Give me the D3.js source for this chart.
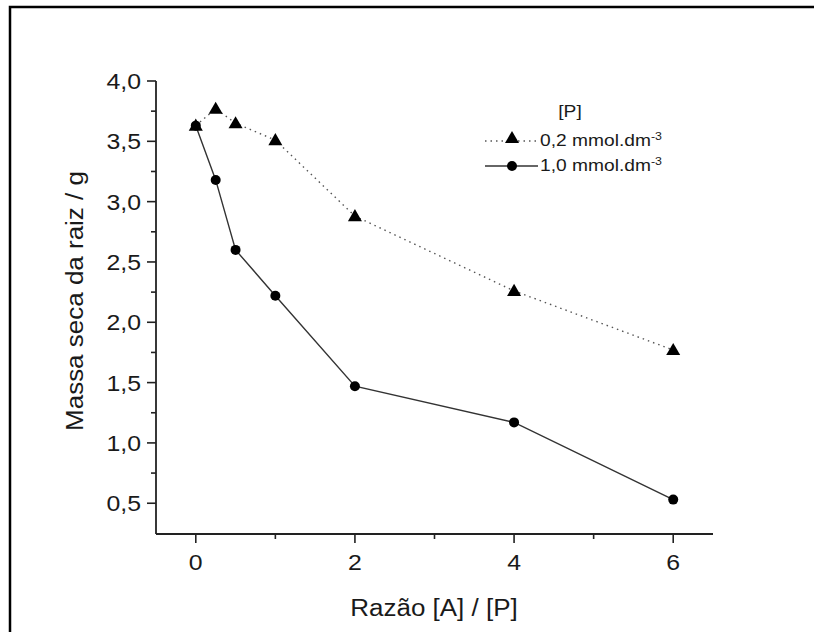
<!DOCTYPE html>
<html>
<head>
<meta charset="utf-8">
<script src="https://cdn.jsdelivr.net/npm/d3@7"></script>
<style>
  body { margin: 0; background: #fff; }
  text { font-family: Arial, "Liberation Sans", sans-serif; fill: #1a1a1a; }
</style>
</head>
<body>
<script>
// data
var razao = [0, 0.25, 0.5, 1, 2, 4, 6];
var massa02 = [3.63, 3.77, 3.65, 3.51, 2.88, 2.26, 1.77];   // 0,2 mmol.dm-3 (triangles, dotted)
var massa10 = [3.63, 3.18, 2.60, 2.22, 1.47, 1.17, 0.53];   // 1,0 mmol.dm-3 (circles, solid)
var xTicks = [0, 2, 4, 6];
var yTicks = [0.5, 1.0, 1.5, 2.0, 2.5, 3.0, 3.5, 4.0];
var legendLabels = ["0,2 mmol.dm", "1,0 mmol.dm"];

var width = 814, height = 632;
var stretch = 1.13; // the original lettering is a bit wider than Arial

var svg = d3.select("body").append("svg")
    .attr("width", width)
    .attr("height", height);

// outer frame (runs off the right and bottom)
svg.append("rect")
    .attr("x", 10).attr("y", 7)
    .attr("width", 840).attr("height", 660)
    .attr("fill", "none")
    .attr("stroke", "#000")
    .attr("stroke-width", 2.5);

var x = d3.scaleLinear().domain([-0.5, 6.5]).range([156, 713]);
var y = d3.scaleLinear().domain([0.245, 4.0]).range([534, 81]);

var comma = function(d) { return d3.format(".1f")(d).replace(".", ","); };
var place = function(px, py) { return "translate(" + px + "," + py + ") scale(" + stretch + ",1)"; };

// x axis
var xAxis = svg.append("g").attr("transform", "translate(0,534)");
xAxis.append("line")
    .attr("x1", 156).attr("x2", 713)
    .attr("stroke", "#222").attr("stroke-width", 1.8);
xAxis.selectAll(".minor").data([1, 3, 5]).enter().append("line")
    .attr("x1", x).attr("x2", x).attr("y1", 0).attr("y2", 5)
    .attr("stroke", "#222").attr("stroke-width", 1.6);
xAxis.selectAll(".major").data(xTicks).enter().append("line")
    .attr("x1", x).attr("x2", x).attr("y1", 0).attr("y2", 9)
    .attr("stroke", "#222").attr("stroke-width", 1.6);
xAxis.selectAll("text").data(xTicks).enter().append("text")
    .attr("transform", function(d) { return place(x(d), 36); })
    .attr("text-anchor", "middle")
    .attr("font-size", "22px")
    .text(function(d) { return d; });

svg.append("text")
    .attr("transform", place(434, 616))
    .attr("text-anchor", "middle")
    .attr("font-size", "23px")
    .text("Razão [A] / [P]");

// y axis
var yAxis = svg.append("g").attr("transform", "translate(156,0)");
yAxis.append("line")
    .attr("y1", 81).attr("y2", 534)
    .attr("stroke", "#222").attr("stroke-width", 1.8);
yAxis.selectAll(".minor").data(d3.range(0.75, 4, 0.5)).enter().append("line")
    .attr("y1", y).attr("y2", y).attr("x1", 0).attr("x2", -5)
    .attr("stroke", "#222").attr("stroke-width", 1.6);
yAxis.selectAll(".major").data(yTicks).enter().append("line")
    .attr("y1", y).attr("y2", y).attr("x1", 0).attr("x2", -9)
    .attr("stroke", "#222").attr("stroke-width", 1.6);
yAxis.selectAll("text").data(yTicks).enter().append("text")
    .attr("transform", function(d) { return place(-15, y(d)); })
    .attr("dy", "0.36em")
    .attr("text-anchor", "end")
    .attr("font-size", "22px")
    .text(comma);

svg.append("text")
    .attr("transform", "translate(83,301) rotate(-90) scale(" + stretch + ",1)")
    .attr("text-anchor", "middle")
    .attr("font-size", "23px")
    .text("Massa seca da raiz / g");

// series
var line = d3.line()
    .x(function(d) { return x(d[0]); })
    .y(function(d) { return y(d[1]); });

var pts02 = razao.map(function(r, i) { return [r, massa02[i]]; });
var pts10 = razao.map(function(r, i) { return [r, massa10[i]]; });

svg.append("path")
    .attr("d", line(pts02))
    .attr("fill", "none")
    .attr("stroke", "#555")
    .attr("stroke-width", 1.4)
    .attr("stroke-dasharray", "1.5,4");

svg.append("path")
    .attr("d", line(pts10))
    .attr("fill", "none")
    .attr("stroke", "#333")
    .attr("stroke-width", 1.4);

var tri = d3.symbol().type(d3.symbolTriangle).size(85);

svg.selectAll(".tri").data(pts02).enter().append("path")
    .attr("class", "tri")
    .attr("d", tri)
    .attr("transform", function(d) { return "translate(" + x(d[0]) + "," + (y(d[1]) + 1) + ")"; })
    .attr("fill", "#000");

svg.selectAll(".circ").data(pts10).enter().append("circle")
    .attr("class", "circ")
    .attr("cx", function(d) { return x(d[0]); })
    .attr("cy", function(d) { return y(d[1]); })
    .attr("r", 5)
    .attr("fill", "#000");

// legend
var legend = svg.append("g");
legend.append("text")
    .attr("transform", place(570, 117))
    .attr("text-anchor", "middle")
    .attr("font-size", "17px")
    .text("[P]");

var rows = [
    { y: 141, dash: "1.5,4", stroke: "#555", mark: "tri" },
    { y: 166, dash: null, stroke: "#333", mark: "circ" }
];

rows.forEach(function(r, i) {
    legend.append("line")
        .attr("x1", 485).attr("x2", 538)
        .attr("y1", r.y).attr("y2", r.y)
        .attr("stroke", r.stroke)
        .attr("stroke-width", 1.4)
        .attr("stroke-dasharray", r.dash);
    if (r.mark === "tri") {
        legend.append("path")
            .attr("d", tri)
            .attr("transform", "translate(512," + (r.y - 2) + ")")
            .attr("fill", "#000");
    } else {
        legend.append("circle")
            .attr("cx", 512).attr("cy", r.y).attr("r", 5)
            .attr("fill", "#000");
    }
    var t = legend.append("text")
        .attr("transform", place(540, r.y + 5))
        .attr("font-size", "17px");
    t.append("tspan").text(legendLabels[i]);
    t.append("tspan")
        .attr("dy", "-0.55em")
        .attr("font-size", "11px")
        .text("-3");
});
</script>
</body>
</html>
